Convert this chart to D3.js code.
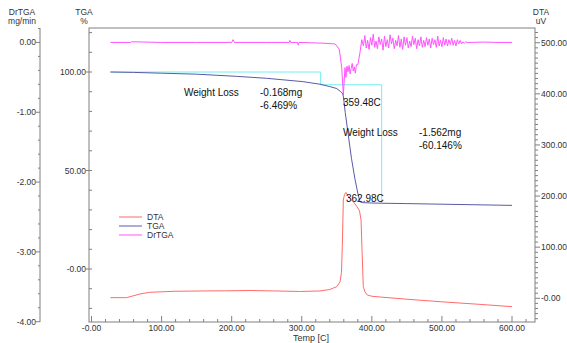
<!DOCTYPE html>
<html>
<head>
<meta charset="utf-8">
<script src="https://cdn.jsdelivr.net/npm/d3@7"></script>
<style>
  body { margin: 0; background: #fff; }
  svg { display: block; font-family: "Liberation Sans", Arial, sans-serif; }
</style>
</head>
<body>
<svg id="chart" width="567" height="343"></svg>
<script>
// temperature axis (C)
const xTicks = [0, 100, 200, 300, 400, 500, 600];
const xTickLabels = ["-0.00", "100.00", "200.00", "300.00", "400.00", "500.00", "600.00"];
const tgaTicks = [0, 50, 100];
const tgaTickLabels = ["-0.00", "50.00", "100.00"];
const drTicks = [0, -1, -2, -3, -4];
const drTickLabels = ["0.00", "-1.00", "-2.00", "-3.00", "-4.00"];
const dtaTicks = [0, 100, 200, 300, 400, 500];
const dtaTickLabels = ["-0.00", "100.00", "200.00", "300.00", "400.00", "500.00"];

// DTA (uV)
const dtaT = [27, 50, 69, 83, 119, 155, 190, 226, 260, 297, 326, 340, 350, 354.6, 356.7, 358.1, 359.3, 361, 363, 366, 369, 374, 378.4, 382.4, 384.6, 386, 387.8, 390.3, 393.5, 400, 411.7, 454.5, 497.3, 550, 600];
const dtaV = [1.2, 1.2, 8.4, 11.7, 13.7, 14.3, 14.6, 15.2, 14.4, 13.3, 14.3, 17.2, 22.7, 32, 51, 114, 192, 203, 207, 200, 195, 188, 180, 171, 153, 94, 23, 12.3, 6.5, 4, 2.5, -2.3, -6.7, -11.5, -16.4];

// TGA (%)
const tgaT = [27, 60, 100, 150, 207, 250, 302, 326, 340, 350, 355, 358.4, 359.5, 362, 366, 371, 376, 380, 383, 386, 400, 414, 450, 500, 550, 600];
const tgaV = [100, 99.8, 99.4, 98.9, 97.8, 96.8, 95.1, 93.8, 92.6, 91.6, 90.2, 89.0, 87.3, 79.5, 69, 56, 45.5, 38.5, 34.2, 33.7, 33.5, 33.4, 33.2, 32.9, 32.6, 32.3];

// DrTGA (mg/min)
const drT = [27, 56, 57, 100, 150, 200, 202, 204, 250, 282, 283, 284, 294, 295, 296, 330, 345, 347.5, 350, 353.6, 357, 359.3, 361.7, 363, 364.5, 366, 367.5, 369, 370.5, 372, 373.5, 375, 376.5, 378, 380, 383, 385.6,
  388, 390, 392, 394, 396, 398, 400, 402, 404, 406, 408, 410, 412, 414, 416, 418, 420, 422, 424, 426, 428, 430, 432, 434, 436, 438, 440,
  442, 444, 446, 448, 450, 452, 454, 456, 458, 460, 462, 464, 466, 468, 470, 472, 474, 476, 478, 480, 482, 484, 486, 488, 490, 492, 494,
  496, 498, 500, 502, 504, 506, 508, 510, 512, 514, 516, 518, 520, 522, 524, 526, 528, 530, 532, 534, 536, 540, 560, 580, 600];
const drV = [0, 0, 0.01, 0, 0, 0, 0.04, 0, 0, 0, 0.03, 0, 0, -0.04, 0, -0.01, -0.02, -0.02, -0.05, -0.10, -0.36, -0.75, -0.36, -0.50, -0.34, -0.42, -0.33, -0.45, -0.37, -0.30, -0.41, -0.35, -0.44, -0.32, -0.32, -0.15, 0.04,
  -0.05, 0.10, -0.08, 0.03, -0.10, 0.07, -0.04, 0.12, -0.07, 0.02, -0.09, 0.08, -0.03, 0.05, -0.11, 0.09, -0.06, 0.04, -0.08, 0.11, -0.02, 0.06, -0.09, 0.03, -0.05, 0.10, -0.07,
  0.05, -0.10, 0.08, -0.04, 0.07, -0.08, 0.02, -0.06, 0.09, -0.03, 0.06, -0.09, 0.04, -0.05, 0.08, -0.07, 0.03, -0.06, 0.07, -0.04, 0.05, -0.08, 0.06, -0.03, 0.04, -0.07, 0.09,
  -0.05, 0.03, -0.06, 0.07, -0.04, 0.05, -0.05, 0.04, -0.03, 0.06, -0.04, 0.03, -0.05, 0.04, -0.02, 0.03, -0.02, 0.01, -0.01, 0.01, 0, 0, 0.005, 0, 0];

// weight loss step marker (cyan)
const stepT = [27, 327, 327, 414, 414];
const stepV = [100, 100, 93.53, 93.53, 33.38];

const legendNames = ["DTA", "TGA", "DrTGA"];
const legendColors = ["#ff6b6b", "#5a5aaa", "#ff55ff"];

const svg = d3.select("#chart");
const axisColor = "#808080";
const textColor = "#333";

const x = d3.scaleLinear().domain([-3.57, 632.8]).range([89, 535]);
const yTga = d3.scaleLinear().domain([-26.9, 122.34]).range([322, 28]);
const yDr = d3.scaleLinear().domain([-4, 0.207]).range([321.7, 28]);
const yDta = d3.scaleLinear().domain([-46.4, 528.8]).range([322, 28]);

// frame
svg.append("rect")
    .attr("x", 89).attr("y", 28).attr("width", 446).attr("height", 294)
    .attr("fill", "none").attr("stroke", axisColor).attr("stroke-width", 1);

// x axis ticks (inward)
const g = svg.append("g");
d3.range(0, 640, 20).forEach(t => {
    const major = t % 100 === 0;
    g.append("line")
        .attr("x1", x(t)).attr("x2", x(t))
        .attr("y1", 322).attr("y2", major ? 316 : 319)
        .attr("stroke", axisColor);
});
xTicks.forEach((t, i) => {
    g.append("text").attr("x", x(t)).attr("y", 331)
        .attr("text-anchor", "middle").attr("font-size", 8.5).attr("fill", textColor)
        .text(xTickLabels[i]);
});
svg.append("text").attr("x", 311).attr("y", 341)
    .attr("text-anchor", "middle").attr("font-size", 9).attr("fill", textColor)
    .text("Temp  [C]");

// TGA axis
for (let v = -20; v <= 120; v += 10) {
    const major = v % 50 === 0;
    g.append("line")
        .attr("x1", major ? 86 : 89).attr("x2", 92)
        .attr("y1", yTga(v)).attr("y2", yTga(v))
        .attr("stroke", axisColor);
}
tgaTicks.forEach((t, i) => {
    g.append("text").attr("x", 86).attr("y", yTga(t) + 3)
        .attr("text-anchor", "end").attr("font-size", 8.5).attr("fill", textColor)
        .text(tgaTickLabels[i]);
});

// DrTGA axis
g.append("line").attr("x1", 40).attr("x2", 40).attr("y1", 28).attr("y2", 322).attr("stroke", axisColor);
for (let k = -20; k <= 1; k++) {
    const v = k / 5;
    const major = k % 5 === 0;
    g.append("line")
        .attr("x1", major ? 36 : 38).attr("x2", 40)
        .attr("y1", yDr(v)).attr("y2", yDr(v))
        .attr("stroke", axisColor);
}
drTicks.forEach((t, i) => {
    g.append("text").attr("x", 36).attr("y", yDr(t) + 3)
        .attr("text-anchor", "end").attr("font-size", 8.5).attr("fill", textColor)
        .text(drTickLabels[i]);
});

// DTA axis (right)
for (let v = -40; v <= 520; v += 10) {
    const major = v % 100 === 0;
    g.append("line")
        .attr("x1", 535).attr("x2", major ? 540 : 538)
        .attr("y1", yDta(v)).attr("y2", yDta(v))
        .attr("stroke", axisColor);
}
dtaTicks.forEach((t, i) => {
    g.append("text").attr("x", 541).attr("y", yDta(t) + 3)
        .attr("text-anchor", "start").attr("font-size", 8.5).attr("fill", textColor)
        .text(dtaTickLabels[i]);
});

// axis titles
[["DrTGA", 22, 15], ["mg/min", 22, 24], ["TGA", 84, 15], ["%", 84, 24], ["DTA", 541, 15], ["uV", 541, 24]]
    .forEach(d => {
        svg.append("text").attr("x", d[1]).attr("y", d[2])
            .attr("text-anchor", "middle").attr("font-size", 8.5).attr("fill", textColor)
            .text(d[0]);
    });

// curves
const line = (xs, ys, yScale) => d3.line()(xs.map((t, i) => [x(t), yScale(ys[i])]));

svg.append("path").attr("d", line(stepT, stepV, yTga))
    .attr("fill", "none").attr("stroke", "#70f0f0").attr("stroke-width", 1);
svg.append("path").attr("d", line(drT, drV, yDr))
    .attr("fill", "none").attr("stroke", legendColors[2]).attr("stroke-width", 1);
svg.append("path").attr("d", line(dtaT, dtaV, yDta))
    .attr("fill", "none").attr("stroke", legendColors[0]).attr("stroke-width", 1);
svg.append("path").attr("d", line(tgaT, tgaV, yTga))
    .attr("fill", "none").attr("stroke", legendColors[1]).attr("stroke-width", 1);

// annotations
const notes = [
    ["Weight Loss", 184, 96], ["-0.168mg", 260, 96], ["-6.469%", 260, 109],
    ["359.48C", 343, 106],
    ["Weight Loss", 343, 136], ["-1.562mg", 419, 136], ["-60.146%", 419, 149],
    ["362.98C", 346, 202]
];
notes.forEach(d => {
    svg.append("text").attr("x", d[1]).attr("y", d[2])
        .attr("font-size", 10).attr("fill", "#111")
        .text(d[0]);
});

// legend
legendNames.forEach((n, i) => {
    const ly = 217 + i * 9;
    svg.append("line").attr("x1", 119).attr("x2", 142).attr("y1", ly).attr("y2", ly)
        .attr("stroke", legendColors[i]).attr("stroke-width", 1);
    svg.append("text").attr("x", 147).attr("y", ly + 3)
        .attr("font-size", 8.5).attr("fill", textColor).text(n);
});
</script>
</body>
</html>
